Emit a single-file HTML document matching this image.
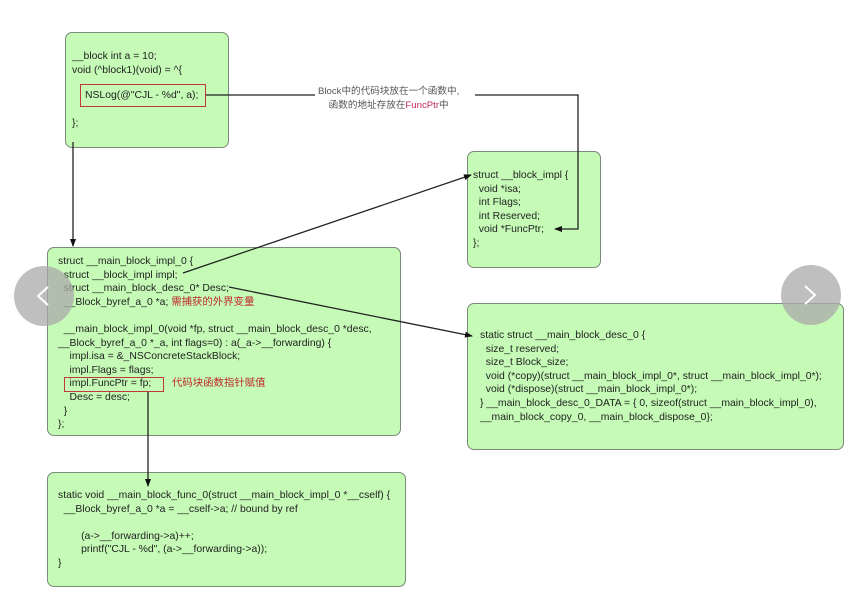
<!DOCTYPE html>
<html><head><meta charset="utf-8"><style>
body{margin:0;width:862px;height:597px;background:#fff;position:relative;overflow:hidden;font-family:"Liberation Sans","Noto Sans CJK SC",sans-serif;}
.b{position:absolute;background:#c5fbb6;border:1px solid #7a8a78;border-radius:7px;box-sizing:border-box;}
.t{position:absolute;font-size:10.4px;color:#222;white-space:pre;line-height:13.6px;}
.r{color:#c0282a;}
.rb{position:absolute;border:1px solid #c0383a;box-sizing:border-box;}
.c{position:absolute;width:60px;height:60px;border-radius:50%;background:rgba(170,170,170,.75);}
</style></head><body>
<div class="b" style="left:65px;top:32px;width:164px;height:116px"></div>
<div class="b" style="left:47px;top:247px;width:354px;height:189px"></div>
<div class="b" style="left:467px;top:151px;width:134px;height:117px"></div>
<div class="b" style="left:467px;top:303px;width:377px;height:147px"></div>
<div class="b" style="left:47px;top:472px;width:359px;height:115px"></div>

<div class="rb" style="left:80px;top:84px;width:126px;height:23px"></div>
<div class="rb" style="left:64px;top:377px;width:100px;height:15px"></div>

<div class="t" style="left:72px;top:50px">__block int a = 10;
void (^block1)(void) = ^{</div>
<div class="t" style="left:85px;top:89px">NSLog(@"CJL - %d", a);</div>
<div class="t" style="left:72px;top:117px">};</div>

<div class="t" style="left:58px;top:255px">struct __main_block_impl_0 {
  struct __block_impl impl;
  struct __main_block_desc_0* Desc;
  __Block_byref_a_0 *a; <span class="r">需捕获的外界变量</span>

  __main_block_impl_0(void *fp, struct __main_block_desc_0 *desc,
__Block_byref_a_0 *_a, int flags=0) : a(_a->__forwarding) {
    impl.isa = &amp;_NSConcreteStackBlock;
    impl.Flags = flags;
    impl.FuncPtr = fp;
    Desc = desc;
  }
};</div>
<div class="t r" style="left:172px;top:377px">代码块函数指针赋值</div>

<div class="t" style="left:473px;top:169px">struct __block_impl {
  void *isa;
  int Flags;
  int Reserved;
  void *FuncPtr;
};</div>

<div class="t" style="left:480px;top:329px">static struct __main_block_desc_0 {
  size_t reserved;
  size_t Block_size;
  void (*copy)(struct __main_block_impl_0*, struct __main_block_impl_0*);
  void (*dispose)(struct __main_block_impl_0*);
} __main_block_desc_0_DATA = { 0, sizeof(struct __main_block_impl_0),
__main_block_copy_0, __main_block_dispose_0};</div>

<div class="t" style="left:58px;top:489px">static void __main_block_func_0(struct __main_block_impl_0 *__cself) {
  __Block_byref_a_0 *a = __cself->a; // bound by ref

        (a->__forwarding->a)++;
        printf("CJL - %d", (a->__forwarding->a));
}</div>

<div class="t" style="left:318px;top:85px;color:#555;font-size:9.6px">Block中的代码块放在一个函数中,
    函数的地址存放在<span style="color:#c0285a">FuncPtr</span>中</div>

<svg width="862" height="597" style="position:absolute;left:0;top:0">
<defs><marker id="a" markerWidth="8" markerHeight="8" refX="7" refY="4" orient="auto" markerUnits="userSpaceOnUse"><path d="M0,1 L8,4 L0,7z" fill="#111"/></marker></defs>
<g stroke="#222" stroke-width="1.3" fill="none">
<line x1="206" y1="95" x2="315" y2="95"/>
<polyline points="475,95 578,95 578,229 555,229" marker-end="url(#a)"/>
<line x1="73" y1="142" x2="73" y2="246" marker-end="url(#a)"/>
<line x1="183" y1="273" x2="471" y2="175" marker-end="url(#a)"/>
<line x1="229" y1="287" x2="472" y2="336" marker-end="url(#a)"/>
<line x1="148" y1="392" x2="148" y2="486" marker-end="url(#a)"/>
</g></svg>

<div class="c" style="left:14px;top:266px"></div>
<div class="c" style="left:781px;top:265px"></div>
<svg width="862" height="597" style="position:absolute;left:0;top:0">
<polyline points="48,287 38,296 48,305" stroke="#fff" stroke-width="2" fill="none"/>
<polyline points="805,286 815,295 805,304" stroke="#fff" stroke-width="2" fill="none"/>
</svg>
</body></html>
